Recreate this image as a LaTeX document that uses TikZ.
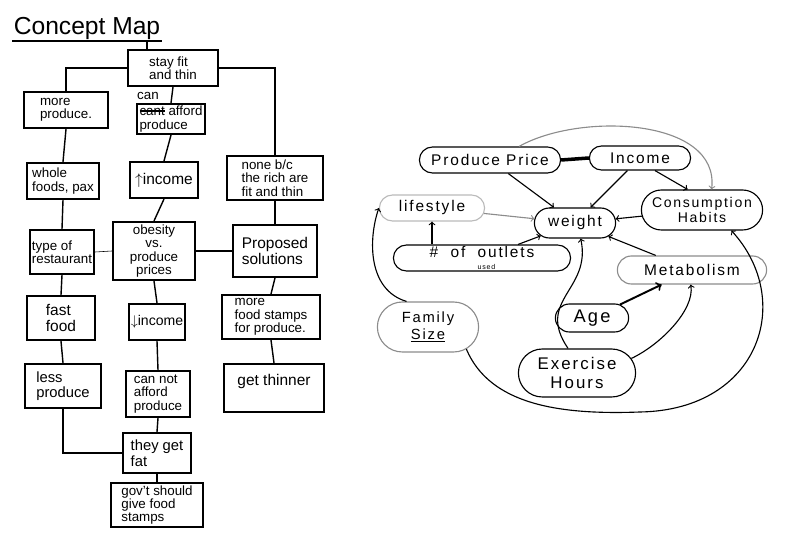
\documentclass[tikz,border=0pt]{standalone}
\usepackage{fontspec}
\setmainfont{Liberation Sans}
\newfontfamily\pillfont[LetterSpace=12]{Liberation Sans}
\usetikzlibrary{shapes.misc}

\newcommand\crossout[1]{\setbox0=\hbox{#1}\rlap{\copy0}\rule[0.6ex]{\wd0}{1pt}}

\tikzset{
  box/.style={draw, line width=1.5pt, align=left, inner sep=1.5pt, font=\fontsize{9.5}{9.5}\selectfont},
  pill/.style={draw, rounded rectangle, line width=0.8pt, align=center, inner sep=1pt, font=\pillfont\fontsize{11}{11}\selectfont},
  link/.style={line width=1pt},
  arc/.style={->, line width=0.8pt},
}
\colorlet{pencil}{black!45}

\begin{document}
\begin{tikzpicture}[x=0.25mm, y=-0.25mm]
        \useasboundingbox (0,0) rectangle (800,543);

        \node[font=\fontsize{17.5}{20}\selectfont, inner sep=1pt] (title) at (87,28) {Concept Map};
        \draw[link] (title.south west) -- (title.south east);

        \node[box, minimum width=22.5mm, minimum height=9mm] (fit) at (173,68) {stay fit\\and thin};
        \node[box, minimum width=21mm, minimum height=9mm] (morep) at (66,110) {more\\produce.};
        \node[font=\fontsize{9.5}{9.5}\selectfont, inner sep=0pt] (can) at (148,96) {can};
        \node[box, minimum width=17mm, minimum height=7.5mm] (canp) at (171,119) {\crossout{cant} afford\\produce};
        \node[box, minimum width=24mm, minimum height=11mm] (rich) at (275,178) {none b/c\\the rich are\\fit and thin};
        \node[box, minimum width=18mm, minimum height=9mm] (whole) at (63,181) {whole\\foods, pax};
        \node[box, minimum width=17mm, minimum height=9mm, font=\fontsize{11}{11}\selectfont] (incup) at (164,180) {$\uparrow$income};
        \node[box, minimum width=15mm, minimum height=11mm] (rest) at (62,252) {type of\\restaurant};
        \node[box, minimum width=20.5mm, minimum height=14.5mm, align=center] (obes) at (154,251) {obesity\\vs.\\produce\\prices};
        \node[box, minimum width=21mm, minimum height=13mm, font=\fontsize{11}{12}\selectfont] (prop) at (275,251) {Proposed\\solutions};
        \node[box, minimum width=17mm, minimum height=11mm, font=\fontsize{11}{12}\selectfont] (fast) at (61,318) {fast\\food};
        \node[box, minimum width=14mm, minimum height=9mm, font=\fontsize{10}{10}\selectfont] (incdn) at (157,322) {$\downarrow$income};
        \node[box, minimum width=24.5mm, minimum height=11mm] (stamps) at (271,317) {more\\food stamps\\for produce.};
        \node[box, minimum width=19mm, minimum height=11mm, font=\fontsize{10.5}{11}\selectfont] (less) at (63,386) {less\\produce};
        \node[box, minimum width=16mm, minimum height=11.5mm] (cannot) at (158,394) {can not\\afford\\produce};
        \node[box, minimum width=25mm, minimum height=12mm, font=\fontsize{11}{12}\selectfont] (thin) at (274,388) {get thinner\\~};
        \node[box, minimum width=17mm, minimum height=10mm, font=\fontsize{10.5}{11}\selectfont] (fat) at (157,453) {they get\\fat};
        \node[box, minimum width=23mm, minimum height=10.5mm] (gov) at (157,505) {gov't should\\give food\\stamps};

        \draw[link] ([xshift=-6.5mm]fit.north) -- ([xshift=-6.5mm]fit.north |- title.south);
        \draw[link] (fit.west) -| (morep.north);
        \draw[link] (fit.south) -- (canp.north);
        \draw[link] (fit.east) -| (rich.north);
        \draw[link] (morep.south) -- (whole.north);
        \draw[link] (canp.south) -- (incup.north);
        \draw[link] (whole.south) -- (rest.north);
        \draw[link] (incup.south) -- (obes.north);
        \draw[link] (rich.south) -- (prop.north);
        \draw[thin] (rest.east) -- (obes.west);
        \draw[line width=1.5pt] (obes.east) -- (prop.west);
        \draw[link] (obes.south) -- (incdn.north);
        \draw[link] (rest.south) -- (fast.north);
        \draw[link] (prop.south) -- (stamps.north);
        \draw[link] (fast.south) -- (less.north);
        \draw[link] (incdn.south) -- (cannot.north);
        \draw[link] (stamps.south) -- (thin.north);
        \draw[link] (less.south) |- (fat.west);
        \draw[link] (cannot.south) -- (fat.north);
        \draw[link] (fat.south) -- (gov.north);

        \node[pill, minimum width=36mm, minimum height=6.5mm] (price) at (490,160) {Produce Price};
        \node[pill, minimum width=26mm, minimum height=6mm] (income) at (640,158) {Income};
        \node[pill, minimum width=31mm, minimum height=10mm, font=\pillfont\fontsize{10}{11}\selectfont] (habits) at (702,210) {Consumption\\Habits};
        \node[pill, draw=pencil!60, minimum width=27mm, minimum height=6.5mm] (life) at (432,208) {lifestyle};
        \node[pill, minimum width=21mm, minimum height=7.5mm] (weight) at (575,223) {weight};
        \node[pill, minimum width=45mm, minimum height=6.5mm] (outlets) at (482,258) {\#\ \ of\ \ \rlap{\raisebox{-1.4ex}{\pillfont\fontsize{5}{5}\selectfont used}}outlets};
        \node[pill, draw=pencil, minimum width=38mm, minimum height=7mm] (metab) at (692,270) {Metabolism};
        \node[pill, minimum width=19mm, minimum height=7mm, font=\pillfont\fontsize{13}{13}\selectfont] (age) at (592,318) {Age};
        \node[pill, draw=pencil, minimum width=26mm, minimum height=12.5mm, font=\pillfont\fontsize{10.5}{12}\selectfont] (family) at (428,327) {Family\\\underline{Size}};
        \node[pill, minimum width=30mm, minimum height=12mm, font=\pillfont\fontsize{12}{13}\selectfont] (exercise) at (577,373) {Exercise\\Hours};

        \draw[line width=2.5pt] (price.east) -- (income.west);
        \draw[arc] (price) -- (weight);
        \draw[arc] (income) -- (weight);
        \draw[arc] (income.-40) -- (habits.125);
        \draw[arc, draw=pencil] (price.25) .. controls (580,112) and (720,118) .. (habits.65);
        \draw[arc] (habits) -- (weight);
        \draw[arc, draw=pencil] (life) -- (weight);
        \draw[arc] (outlets.north -| life.south) -- (life.south);
        \draw[arc] (outlets) -- (weight);
        \draw[arc] (metab) -- (weight);
        \draw[arc, line width=1.4pt] (age) -- (metab);
        \draw[arc] (exercise.110) .. controls (535,300) and (592,290) .. (weight.-70);
        \draw[arc] (exercise.15) .. controls (660,345) and (695,310) .. (metab.-95);
        \draw[arc] (family.130) .. controls (368,290) and (368,240) .. (life.west);
        \draw[arc] (family.-30) .. controls (490,405) and (560,415) .. (640,412) .. controls (760,410) and (795,300) .. (habits.-35);
\end{tikzpicture}
\end{document}
